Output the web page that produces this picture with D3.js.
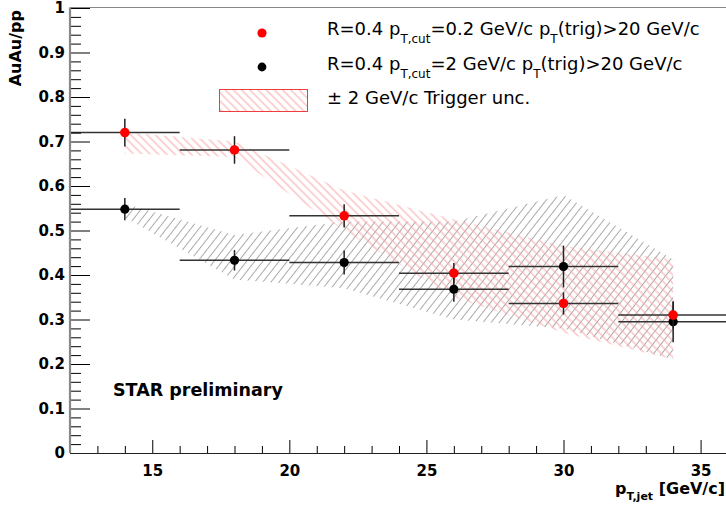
<!DOCTYPE html>
<html><head><meta charset="utf-8">
<script src="https://cdn.jsdelivr.net/npm/d3@7"></script>
<style>body{margin:0;background:#fff} svg{display:block} text{font-family:"DejaVu Sans",sans-serif}</style>
</head><body><svg id="c" width="726" height="507"></svg>
<script>
// ---- data ----
const binCenters   = [14, 18, 22, 26, 30, 34];
const binHalfWidth = [2, 2, 2, 2, 2, 2];
const redValues    = [0.720, 0.681, 0.533, 0.404, 0.336, 0.310];
const redErrors    = [0.031, 0.031, 0.026, 0.023, 0.025, 0.030];
const blackValues  = [0.548, 0.433, 0.428, 0.368, 0.419, 0.295];
const blackErrors  = [0.025, 0.023, 0.027, 0.028, 0.047, 0.046];
const redBandHigh  = [0.720, 0.700, 0.590, 0.525, 0.465, 0.435];
const redBandLow   = [0.673, 0.665, 0.500, 0.350, 0.270, 0.210];
const blackBandHigh= [0.560, 0.490, 0.520, 0.520, 0.580, 0.435];
const blackBandLow = [0.530, 0.390, 0.370, 0.300, 0.280, 0.210];
const yTickValues  = [0, 0.1, 0.2, 0.3, 0.4, 0.5, 0.6, 0.7, 0.8, 0.9, 1];
const yTickLabels  = ["0","0.1","0.2","0.3","0.4","0.5","0.6","0.7","0.8","0.9","1"];
const xTickValues  = [15, 20, 25, 30, 35];
const xTickLabels  = ["15","20","25","30","35"];

// ---- chart ----
const svg = d3.select("#c");
svg.append("rect").attr("width",726).attr("height",507).attr("fill","#fff");
const x = d3.scaleLinear().domain([12, 36]).range([70, 728]);
const y = d3.scaleLinear().domain([0, 1]).range([453, 8]);

const defs = svg.append("defs");
function hatch(id, angle, gap, color, width){
  const p = defs.append("pattern").attr("id", id).attr("patternUnits","userSpaceOnUse")
    .attr("width", 12).attr("height", gap).attr("patternTransform", `rotate(${angle})`);
  p.append("line").attr("x1",0).attr("x2",12).attr("y1",gap/2).attr("y2",gap/2)
    .attr("stroke", color).attr("stroke-width", width);
}
hatch("hGrey", -52, 6.4, "#a8a8a8", 1);
hatch("hRed", 45, 5.8, "#f7a5a5", 1);
defs.append("clipPath").attr("id","plotClip").append("rect")
  .attr("x",70).attr("y",8).attr("width",658).attr("height",445);

const plot = svg.append("g").attr("clip-path","url(#plotClip)");

const rows = binCenters.map((c,i)=>({c, hw:binHalfWidth[i], r:redValues[i], re:redErrors[i],
  b:blackValues[i], be:blackErrors[i], rh:redBandHigh[i], rl:redBandLow[i], bh:blackBandHigh[i], bl:blackBandLow[i]}));

plot.append("path").datum(rows)
  .attr("d", d3.area().x(d=>x(d.c)).y0(d=>y(d.bl)).y1(d=>y(d.bh)))
  .attr("fill","url(#hGrey)");
plot.append("path").datum(rows)
  .attr("d", d3.area().x(d=>x(d.c)).y0(d=>y(d.rl)).y1(d=>y(d.rh)))
  .attr("fill","url(#hRed)");

// axes
const fontAxis = g => g.attr("font-family","DejaVu Sans").attr("font-weight","bold").attr("font-size",15);
const gy = svg.append("g").attr("transform","translate(70,0)");
gy.call(d3.axisLeft(y).tickValues(yTickValues).tickFormat((d,i)=>yTickLabels[i])
  .tickSizeInner(-20).tickSizeOuter(0).tickPadding(5)).call(fontAxis);
const yMinor = d3.range(0, 1.0001, 0.02).filter(v => Math.abs(v*10 - Math.round(v*10)) > 1e-6);
gy.append("g").call(d3.axisLeft(y).tickValues(yMinor).tickFormat("").tickSizeInner(-11).tickSizeOuter(0));
gy.selectAll(".domain").remove();
gy.selectAll("line").attr("stroke","#000");
gy.selectAll("text").attr("fill","#000");

const gx = svg.append("g").attr("transform","translate(0,453)");
gx.call(d3.axisBottom(x).tickValues(xTickValues).tickFormat((d,i)=>xTickLabels[i])
  .tickSizeInner(-13).tickSizeOuter(0).tickPadding(12)).call(fontAxis);
const xMinor = d3.range(13, 36).filter(v => v % 5 !== 0);
gx.append("g").call(d3.axisBottom(x).tickValues(xMinor).tickFormat("").tickSizeInner(-7).tickSizeOuter(0));
gx.selectAll(".domain").remove();
gx.selectAll("line").attr("stroke","#000");
gx.selectAll("text").attr("fill","#000");

// frame
svg.append("line").attr("x1",70).attr("x2",726).attr("y1",7.5).attr("y2",7.5).attr("stroke","#888").attr("stroke-width",1.2);
svg.append("line").attr("x1",70).attr("x2",70).attr("y1",7.5).attr("y2",453).attr("stroke","#888").attr("stroke-width",2.2);
svg.append("line").attr("x1",70).attr("x2",726).attr("y1",453.5).attr("y2",453.5).attr("stroke","#222").attr("stroke-width",1);

// error bars and points
function series(key, errKey){
  const g = plot.append("g");
  g.selectAll("line.h").data(rows).join("line").attr("class","h")
    .attr("x1",d=>x(d.c-d.hw)).attr("x2",d=>x(d.c+d.hw)).attr("y1",d=>y(d[key])).attr("y2",d=>y(d[key]))
    .attr("stroke","#333").attr("stroke-width",1.5);
  g.selectAll("line.v").data(rows).join("line").attr("class","v")
    .attr("x1",d=>x(d.c)).attr("x2",d=>x(d.c)).attr("y1",d=>y(d[key]-d[errKey])).attr("y2",d=>y(d[key]+d[errKey]))
    .attr("stroke","#222").attr("stroke-width",1.5);
  return g;
}
const gb = series("b","be");
const gr = series("r","re");
gb.selectAll("circle").data(rows).join("circle").attr("cx",d=>x(d.c)).attr("cy",d=>y(d.b)).attr("r",4.6).attr("fill","#000");
gr.selectAll("circle").data(rows).join("circle").attr("cx",d=>x(d.c)).attr("cy",d=>y(d.r)).attr("r",4.8).attr("fill","#ff0000");

// titles
svg.append("text").attr("transform","translate(21,10) rotate(-90)").attr("text-anchor","end")
  .attr("font-weight","bold").attr("font-size",16).text("AuAu/pp");
const xt = svg.append("text").attr("x",725).attr("y",494).attr("text-anchor","end")
  .attr("font-weight","bold").attr("font-size",16);
xt.append("tspan").text("p");
xt.append("tspan").attr("font-size",11).attr("dy",6).text("T,jet");
xt.append("tspan").attr("dy",-6).text(" [GeV/c]");

svg.append("text").attr("x",113).attr("y",396).attr("font-weight","bold").attr("font-size",17.5).text("STAR preliminary");

// legend
const lg = svg.append("g").attr("font-size",18);
lg.append("circle").attr("cx",262).attr("cy",33).attr("r",4.6).attr("fill","#ff0000");
lg.append("circle").attr("cx",262).attr("cy",67).attr("r",4.4).attr("fill","#000");
function entry(yb, cutText){
  const t = lg.append("text").attr("x",327).attr("y",yb);
  t.append("tspan").text("R=0.4 p");
  t.append("tspan").attr("font-size",12).attr("dy",8).text("T,cut");
  t.append("tspan").attr("dy",-8).text(cutText + " GeV/c p");
  t.append("tspan").attr("font-size",12).attr("dy",8).text("T");
  t.append("tspan").attr("dy",-8).text("(trig)>20 GeV/c");
}
entry(35, "=0.2");
entry(70, "=2");
lg.append("rect").attr("x",219.5).attr("y",89.5).attr("width",88).attr("height",22)
  .attr("fill","url(#hRed)").attr("stroke","#f03c3c").attr("stroke-width",1);
lg.append("text").attr("x",327).attr("y",104).text("± 2 GeV/c Trigger unc.");
</script></body></html>
